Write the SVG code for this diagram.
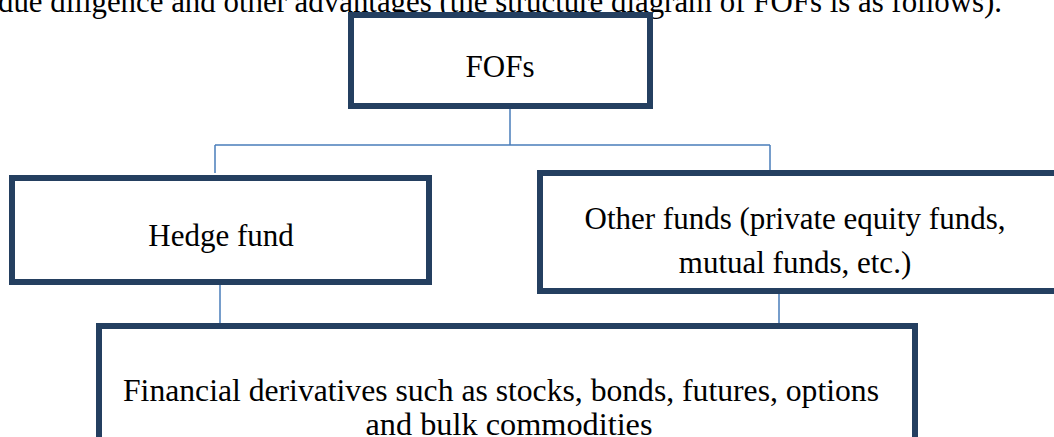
<svg xmlns="http://www.w3.org/2000/svg" width="1054" height="437" viewBox="0 0 1054 437">
<style>
.box{fill:#fff;stroke:#243F60;stroke-width:6}
.t{font-family:"Liberation Serif","Times New Roman",serif;font-size:31px;fill:#000;text-anchor:middle}
.n{font-size:32px}
.c{stroke:#4A7EBB;stroke-width:1.5;fill:none}
</style>
<rect width="1054" height="437" fill="#fff"/>
<text class="t" x="500" y="12" textLength="1004" lengthAdjust="spacingAndGlyphs">due diligence and other advantages (the structure diagram of FOFs is as follows).</text>
<g id="connectors">
<path class="c" d="M510 109V145M215 145H770M215 145V173M770 145V171M220 285V324M779 293V324"/>
</g>
<g id="fofs">
<rect class="box" x="351" y="15" width="299" height="91"/>
<text class="t" x="500" y="77">FOFs</text>
</g>
<g id="hedge">
<rect class="box" x="12" y="178" width="417" height="104"/>
<text class="t" x="221" y="246">Hedge fund</text>
</g>
<g id="other">
<rect class="box" x="540" y="173" width="600" height="118"/>
<text class="t" x="795" y="229">Other funds (private equity funds,</text>
<text class="t" x="795" y="273">mutual funds, etc.)</text>
</g>
<g id="derivatives">
<rect class="box" x="99" y="326" width="816" height="200"/>
<text class="t n" x="501" y="401" textLength="756" lengthAdjust="spacingAndGlyphs">Financial derivatives such as stocks, bonds, futures, options</text>
<text class="t n" x="509" y="435" textLength="287" lengthAdjust="spacingAndGlyphs">and bulk commodities</text>
</g>
</svg>
